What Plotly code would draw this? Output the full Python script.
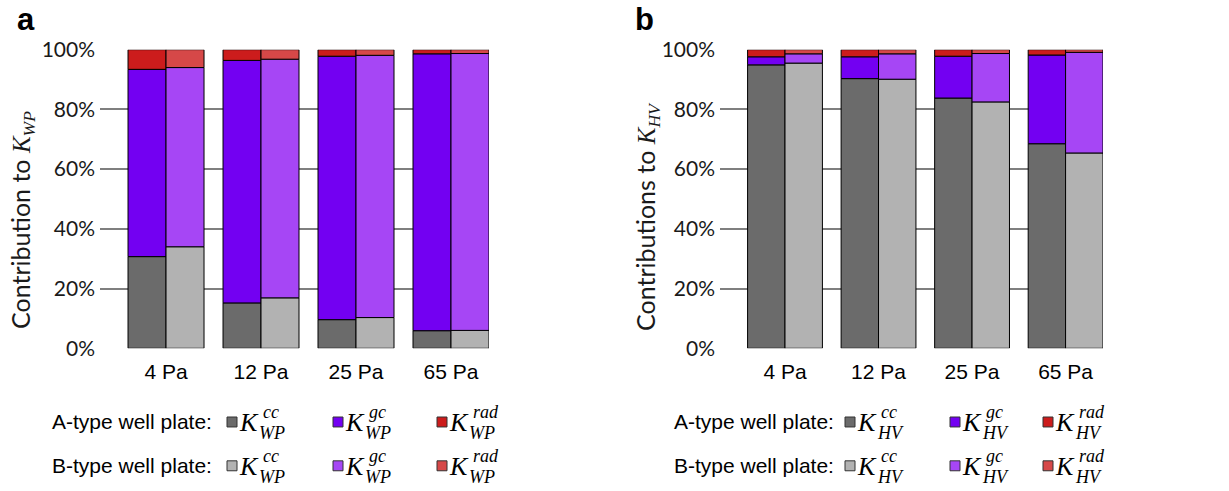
import numpy as np
import plotly.graph_objects as go
from plotly.subplots import make_subplots

W, H = 1229, 491

categories = ["4 Pa", "12 Pa", "25 Pa", "65 Pa"]

# Panel a: contributions to K_WP (%)
wp_A_cc = [30.7, 15.2, 9.6, 5.9]
wp_A_gc = [62.7, 81.2, 88.2, 92.7]
wp_A_rad = [6.6, 3.6, 2.2, 1.4]
wp_B_cc = [34.0, 16.9, 10.3, 6.0]
wp_B_gc = [60.0, 79.9, 87.8, 92.7]
wp_B_rad = [6.0, 3.2, 1.9, 1.3]

# Panel b: contributions to K_HV (%)
hv_A_cc = [94.9, 90.3, 83.8, 68.5]
hv_A_gc = [2.7, 7.3, 14.0, 29.7]
hv_A_rad = [2.4, 2.4, 2.2, 1.8]
hv_B_cc = [95.5, 90.1, 82.5, 65.4]
hv_B_gc = [3.1, 8.5, 16.2, 33.7]
hv_B_rad = [1.4, 1.4, 1.3, 0.9]

y_ticks = [0, 20, 40, 60, 80, 100]

colors = {
    ("A", "cc"): "#6b6b6b", ("B", "cc"): "#b2b2b2",
    ("A", "gc"): "#7300f2", ("B", "gc"): "#a646f5",
    ("A", "rad"): "#cc1c1c", ("B", "rad"): "#d64848",
}

FONT = "Liberation Sans, Arial, sans-serif"
CAL = "Lato, Liberation Sans, sans-serif"
SERIF = "Liberation Serif, DejaVu Serif, serif"

fig = make_subplots(rows=1, cols=2)

def add_panel(col, A, B):
    for plate, comps, offset in (("A", A, -0.4), ("B", B, 0.0)):
        base = np.zeros(len(categories))
        for name, vals in zip(("cc", "gc", "rad"), comps):
            fig.add_trace(go.Bar(
                x=categories, y=vals, base=base.copy(),
                width=0.4, offset=offset,
                marker=dict(color=colors[(plate, name)], line=dict(color="#000000", width=1)),
                showlegend=False, name=f"{plate}-{name}", hoverinfo="skip"),
                row=1, col=col)
            base = base + np.array(vals)

add_panel(1, (wp_A_cc, wp_A_gc, wp_A_rad), (wp_B_cc, wp_B_gc, wp_B_rad))
add_panel(2, (hv_A_cc, hv_A_gc, hv_A_rad), (hv_B_cc, hv_B_gc, hv_B_rad))

# the photographed page maps layout y -> 0.9533*y + 12.2; compensate
def T(y):
    return (y - 12.2) / 0.9533

def px(x):
    return x / W

def py(y):
    return 1 - T(y) / H

ydom = [py(348), py(48)]
xdom1 = [px(100), px(489)]
xdom2 = [px(720), px(1103)]

axis_common_x = dict(range=[-0.695, 3.4], showgrid=False, zeroline=False, showline=False,
                     ticks="", tickfont=dict(family=FONT, size=21, color="#000"),
                     ticklabelstandoff=9)
axis_common_y = dict(range=[0, 100], tickvals=y_ticks, ticktext=[f"{v}%" for v in y_ticks],
                     showgrid=True, gridcolor="#7f7f7f", gridwidth=1.5, zeroline=False,
                     showline=False, ticks="", tickfont=dict(family=CAL, size=21, color="#1a1a1a"),
                     ticklabelstandoff=4)

fig.update_xaxes(domain=xdom1, **axis_common_x, row=1, col=1)
fig.update_xaxes(domain=xdom2, **axis_common_x, row=1, col=2)
fig.update_yaxes(domain=ydom, **axis_common_y, row=1, col=1)
fig.update_yaxes(domain=ydom, **axis_common_y, row=1, col=2)

annotations = []
shapes = []

# axis titles
for text, x, yc in (
    ("Contribution to <span style='font-family:Liberation Serif'><i>K</i><sub><i>WP</i></sub></span>", 22, 219),
    ("Contributions to <span style='font-family:Liberation Serif'><i>K</i><sub><i>HV</i></sub></span>", 647, 216),
):
    annotations.append(dict(text=text, x=px(x), y=py(yc), xref="paper", yref="paper",
                            xanchor="center", yanchor="middle", textangle=-90, showarrow=False,
                            font=dict(family=CAL, size=25, color="#1a1a1a")))

# panel letters
for letter, x in (("a", 15), ("b", 633)):
    annotations.append(dict(text=f"<b>{letter}</b>", x=px(x), y=py(18), xref="paper", yref="paper",
                            xanchor="left", yanchor="middle", showarrow=False,
                            font=dict(family=FONT, size=31, color="#000")))

# legends
def legend(text_x, square_xs, sub):
    for row_label, plate, yc in (("A-type well plate:", "A", 422), ("B-type well plate:", "B", 466)):
        annotations.append(dict(text=row_label, x=px(text_x), y=py(yc), xref="paper", yref="paper",
                                xanchor="left", yanchor="middle", showarrow=False,
                                font=dict(family=FONT, size=21, color="#000")))
        for sx, comp in zip(square_xs, ("cc", "gc", "rad")):
            shapes.append(dict(type="rect", xref="paper", yref="paper",
                               x0=px(sx), x1=px(sx + 10), y0=py(yc + 5), y1=py(yc - 5),
                               fillcolor=colors[(plate, comp)], line=dict(color="#333", width=1)))
            annotations.append(dict(text="<i>K</i>", x=px(sx + 10), y=py(yc + 1), xref="paper", yref="paper",
                                    xanchor="left", yanchor="middle", showarrow=False,
                                    font=dict(family=SERIF, size=26, color="#000")))
            annotations.append(dict(text=f"<i>{comp}</i>", x=px(sx + 34), y=py(yc - 10), xref="paper", yref="paper",
                                    xanchor="left", yanchor="middle", showarrow=False,
                                    font=dict(family=SERIF, size=18, color="#000")))
            annotations.append(dict(text=f"<i>{sub}</i>", x=px(sx + 30), y=py(yc + 11), xref="paper", yref="paper",
                                    xanchor="left", yanchor="middle", showarrow=False,
                                    font=dict(family=SERIF, size=18, color="#000")))

legend(50, (227, 333, 437), "WP")
legend(672, (845, 950, 1043), "HV")

fig.update_layout(
    width=W, height=H, barmode="overlay",
    margin=dict(l=0, r=0, t=0, b=0),
    paper_bgcolor="white", plot_bgcolor="white",
    annotations=annotations, shapes=shapes,
    font=dict(family=FONT, color="#000"),
    hovermode=False,
)

fig.write_html("out.html", config={"displayModeBar": False},
               post_script="document.body.style.margin='0';document.body.style.overflow='hidden';")
